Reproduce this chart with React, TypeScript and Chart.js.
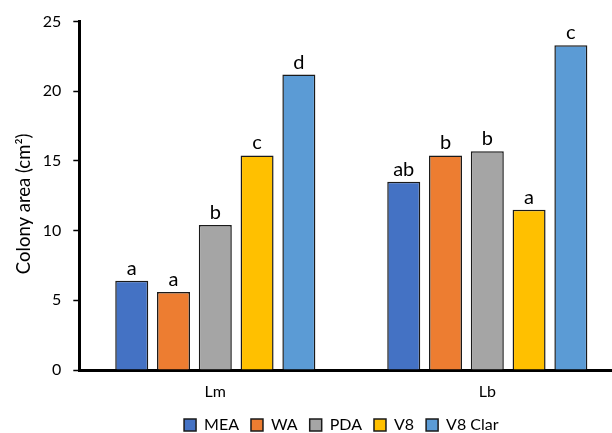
import React, { useEffect, useRef } from "react";
import { Chart, registerables } from "chart.js";

Chart.register(...registerables);

// Fungal colony area on five media for two species
const species = ["Lm", "Lb"];
const media = ["MEA", "WA", "PDA", "V8", "V8 Clar"];
const mediaColors = ["#4472C4", "#ED7D31", "#A5A5A5", "#FFC000", "#5B9BD5"];

const meaArea = [6.4, 13.5];
const waArea = [5.6, 15.4];
const pdaArea = [10.4, 15.7];
const v8Area = [15.4, 11.5];
const v8ClarArea = [21.2, 23.3];

// Significance letters, one per bar
const meaLetters = ["a", "ab"];
const waLetters = ["a", "b"];
const pdaLetters = ["b", "b"];
const v8Letters = ["c", "a"];
const v8ClarLetters = ["d", "c"];

const yMin = 0;
const yMax = 25;
const yStep = 5;
const yTitle = "Colony area (cm\u00B2)";

const FONT = "Lato, 'Open Sans', sans-serif";
const CANVAS_W = 630;
const CANVAS_H = 433;

const seriesValues = [meaArea, waArea, pdaArea, v8Area, v8ClarArea];
const seriesLetters = [meaLetters, waLetters, pdaLetters, v8Letters, v8ClarLetters];

// Writes the significance letter above every bar
const letterPlugin = {
  id: "barLetters",
  afterDatasetsDraw(chart: any) {
    const ctx = chart.ctx;
    ctx.save();
    ctx.font = `20px ${FONT}`;
    ctx.fillStyle = "#000";
    ctx.textAlign = "center";
    ctx.textBaseline = "alphabetic";
    chart.data.datasets.forEach((_ds: any, i: number) => {
      const meta = chart.getDatasetMeta(i);
      meta.data.forEach((bar: any, j: number) => {
        ctx.fillText(seriesLetters[i][j], bar.x, bar.y - 6);
      });
    });
    ctx.restore();
  },
};

// Vertical axis title, set slightly below the middle of the value axis
const axisTitlePlugin = {
  id: "axisTitle",
  afterDraw(chart: any) {
    const area = chart.chartArea;
    const ctx = chart.ctx;
    ctx.save();
    ctx.translate(29.5, (area.top + area.bottom) / 2 + 8);
    ctx.rotate(-Math.PI / 2);
    ctx.font = `18.5px ${FONT}`;
    ctx.fillStyle = "#000";
    ctx.textAlign = "center";
    ctx.textBaseline = "alphabetic";
    ctx.fillText(yTitle, 0, 0);
    ctx.restore();
  },
};

// Centres the legend row under the plot area instead of the canvas
const legendPlacement = {
  id: "legendPlacement",
  afterLayout(chart: any) {
    const lg = chart.legend;
    if (!lg) return;
    const area = chart.chartArea;
    const targetX = (area.left + area.right) / 2 - 10;
    const dx = targetX - (lg.left + lg.right) / 2;
    const dy = 1;
    lg.left += dx;
    lg.right += dx;
    lg.top += dy;
    lg.bottom += dy;
  },
};

export default function App() {
  const canvasRef = useRef<HTMLCanvasElement | null>(null);

  useEffect(() => {
    if (!canvasRef.current) return;
    Chart.defaults.font.family = FONT;
    const chart = new Chart(canvasRef.current, {
      type: "bar",
      data: {
        labels: species,
        datasets: media.map((name, i) => ({
          label: name,
          data: seriesValues[i],
          backgroundColor: mediaColors[i],
          borderColor: "#1a1a1a",
          borderWidth: 1.5,
          categoryPercentage: 0.768,
          barPercentage: 0.79,
        })),
      },
      options: {
        responsive: false,
        animation: false,
        devicePixelRatio: 1,
        layout: {
          padding: { top: 11, left: 9, right: CANVAS_W - 623.3, bottom: -9 },
        },
        plugins: {
          legend: {
            position: "bottom",
            labels: {
              boxWidth: 12,
              boxHeight: 12,
              padding: 12,
              color: "#000",
              font: { size: 16, family: FONT },
            },
          },
          tooltip: { enabled: false },
        },
        scales: {
          x: {
            grid: { display: false, drawTicks: false },
            border: { display: true, color: "#000", width: 3 },
            ticks: { color: "#000", padding: 12, font: { size: 16, family: FONT } },
            afterFit: (s: any) => {
              s.height = 34;
            },
          },
          y: {
            min: yMin,
            max: yMax,
            ticks: {
              stepSize: yStep,
              color: "#000",
              padding: 12,
              font: { size: 16, family: FONT },
            },
            grid: {
              drawOnChartArea: false,
              drawTicks: true,
              tickLength: 6,
              tickColor: "#000",
              tickWidth: 1.5,
            },
            border: { display: true, color: "#000", width: 3 },
            title: { display: false, text: yTitle },
            afterFit: (s: any) => {
              s.width = 79.3 - 9;
            },
          },
        },
      },
      plugins: [letterPlugin, axisTitlePlugin, legendPlacement],
    });
    return () => chart.destroy();
  }, []);

  return (
    <div
      style={{
        position: "absolute",
        left: 0,
        top: 0,
        width: 612,
        height: CANVAS_H,
        overflow: "hidden",
        background: "#fff",
      }}
    >
      <canvas ref={canvasRef} width={CANVAS_W} height={CANVAS_H} style={{ display: "block" }} />
    </div>
  );
}
